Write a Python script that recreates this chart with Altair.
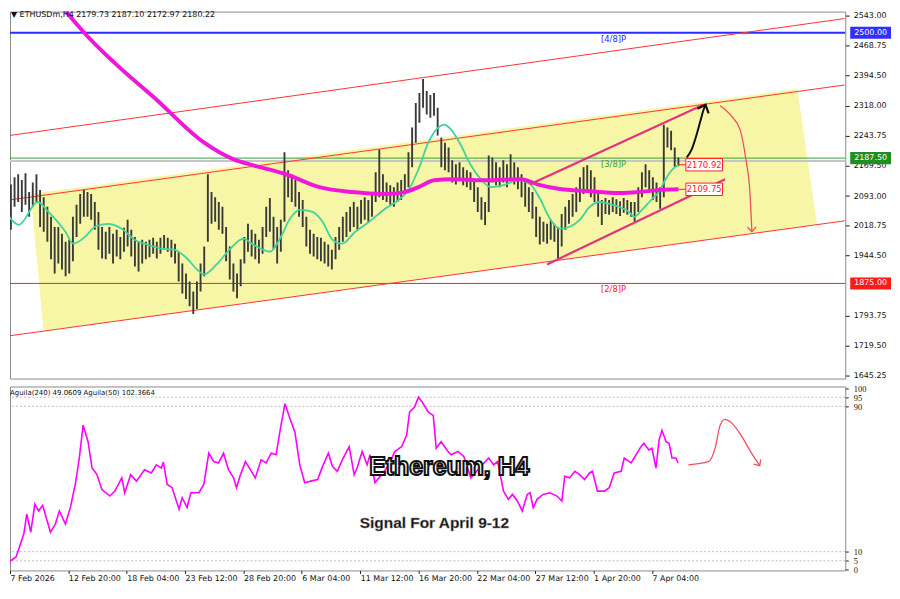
import altair as alt
import pandas as pd

FONT = "DejaVu Sans"

# ---------------- data ----------------
# x = H4 bar index counted from 7 Feb 2026 12:00 ; y = price
tick_bars = [0, 32, 64, 96, 128, 160, 192, 224, 256, 288, 320, 352]
tick_labels = ["7 Feb 2026", "12 Feb 20:00", "18 Feb 04:00", "23 Feb 12:00", "28 Feb 20:00",
               "6 Mar 04:00", "11 Mar 12:00", "16 Mar 20:00", "22 Mar 04:00", "27 Mar 12:00",
               "1 Apr 20:00", "7 Apr 04:00"]
price_ticks = [2543.0, 2468.75, 2394.5, 2318.0, 2243.75, 2169.5, 2093.0, 2018.75,
               1944.5, 1793.75, 1719.5, 1645.25]

# candle highs / lows, one entry per two H4 bars
slot_hi = [2122, 2140, 2147, 2133, 2150, 2103, 2127, 2147, 2108, 2090,
           2066, 2041, 2016, 2016, 1999, 1979, 1984, 2041, 2071, 2098,
           2108, 2103, 2098, 2078, 2053, 2016, 2004, 2016, 1999, 2009,
           1991, 2014, 2034, 2009, 1991, 1979, 1984, 1979, 1984, 1989,
           1979, 1989, 1996, 1989, 1984, 1974, 1954, 1925, 1900, 1880,
           1855, 1880, 1925, 1967, 2147, 2103, 2090, 2078, 2066, 2016,
           1967, 1925, 1900, 1935, 1991, 2024, 2009, 1999, 1984, 2016,
           2066, 2088, 2041, 2016, 2034, 2202, 2157, 2147, 2133, 2103,
           2083, 2041, 2009, 1999, 1991, 1989, 1979, 1972, 1959, 1991,
           2016, 2041, 2053, 2066, 2078, 2066, 2083, 2090, 2083, 2098,
           2152, 2209, 2147, 2127, 2120, 2115, 2127, 2133, 2147, 2202,
           2264, 2325, 2350, 2385, 2355, 2345, 2350, 2313, 2239, 2226,
           2214, 2182, 2172, 2177, 2165, 2157, 2152, 2132, 2115, 2090,
           2078, 2194, 2189, 2177, 2165, 2182, 2172, 2197, 2177, 2165,
           2147, 2133, 2115, 2103, 2066, 2041, 2029, 2024, 2034, 2024,
           2016, 2048, 2066, 2083, 2098, 2115, 2140, 2165, 2170, 2157,
           2140, 2103, 2083, 2088, 2083, 2090, 2085, 2080, 2088, 2083,
           2078, 2078, 2115, 2152, 2172, 2157, 2140, 2127, 2115, 2271,
           2264, 2256, 2214, 2189]
slot_lo = [2009, 2066, 2078, 2053, 2071, 2041, 2066, 2078, 2016, 2004,
           1979, 1935, 1900, 1925, 1910, 1893, 1900, 1930, 1991, 2024,
           2041, 2041, 2034, 2009, 1959, 1937, 1935, 1949, 1925, 1942,
           1935, 1954, 1967, 1942, 1917, 1905, 1925, 1935, 1940, 1949,
           1937, 1949, 1959, 1954, 1940, 1925, 1880, 1850, 1836, 1818,
           1799, 1811, 1855, 1893, 1979, 2024, 2029, 2009, 1999, 1930,
           1885, 1855, 1838, 1868, 1925, 1954, 1942, 1935, 1925, 1949,
           1991, 2004, 1959, 1925, 1954, 2029, 2090, 2078, 2066, 2041,
           2016, 1967, 1949, 1942, 1935, 1930, 1925, 1917, 1910, 1935,
           1959, 1979, 1991, 2004, 2016, 2009, 2024, 2034, 2029, 2041,
           2078, 2090, 2083, 2078, 2071, 2066, 2078, 2083, 2098, 2115,
           2165, 2226, 2276, 2313, 2296, 2288, 2293, 2244, 2165, 2157,
           2152, 2127, 2122, 2132, 2120, 2115, 2108, 2078, 2053, 2034,
           2021, 2053, 2127, 2120, 2115, 2127, 2115, 2132, 2122, 2110,
           2090, 2066, 2053, 2036, 1991, 1972, 1979, 1974, 1984, 1979,
           1937, 1967, 2009, 2024, 2041, 2053, 2078, 2098, 2108, 2090,
           2078, 2041, 2021, 2048, 2046, 2053, 2048, 2043, 2051, 2046,
           2041, 2029, 2053, 2090, 2115, 2103, 2083, 2078, 2061, 2090,
           2214, 2207, 2165, 2167]

# moving average (50) - teal
ma50_i = [-0.5, 4.9, 15.2, 21.1, 30.4, 34.7, 41.2, 46.6, 53.7, 61.3, 68.3, 75.4, 83.0, 90.0,
          97.1, 102.5, 106.3, 113.3, 120.9, 128.0, 133.4, 142.6, 148.0, 153.5, 158.9, 165.9,
          171.4, 176.8, 182.2, 189.3, 196.9, 205.5, 213.1, 218.5, 224.0, 229.4, 234.8, 238.1,
          241.9, 247.3, 252.7, 258.1, 263.6, 270.6, 278.2, 285.2, 290.7, 296.1, 301.5, 306.9,
          312.4, 317.8, 323.2, 328.6, 334.1, 339.5, 342.2, 346.5, 352.0, 355.7, 359.5, 362.8, 366.6]
ma50_p = [2041.0, 2021.2, 2078.1, 2053.4, 2003.9, 1974.3, 1991.6, 2016.3, 2023.7, 2011.3, 1984.1,
          1971.8, 1961.9, 1959.4, 1937.1, 1909.9, 1897.6, 1922.3, 1961.9, 1986.6, 1971.8, 1954.4,
          1986.6, 2036.1, 2058.3, 2053.4, 2028.6, 1984.1, 1974.2, 2003.9, 2028.6, 2060.8, 2083.0,
          2107.8, 2159.7, 2226.5, 2263.6, 2271.0, 2258.6, 2219.1, 2169.6, 2135.0, 2115.2, 2120.1,
          2132.5, 2122.6, 2085.5, 2036.1, 2011.3, 2016.3, 2033.6, 2065.6, 2078.1, 2073.2, 2065.6,
          2053.4, 2041.0, 2058.3, 2085.5, 2102.8, 2135.0, 2157.2, 2170.9]

# moving average (240) - magenta
ma240_i = [24.9, 27.7, 39.6, 57.5, 79.2, 106.3, 122.6, 133.4, 151.3, 169.7, 187.6, 205.5, 216.4,
           224.0, 232.6, 241.9, 259.8, 279.8, 290.7, 301.5, 316.2, 334.1, 344.9, 355.7, 366.6]
ma240_p = [2592.5, 2572.7, 2505.9, 2424.3, 2337.8, 2226.5, 2184.4, 2169.6, 2147.3, 2115.2, 2102.8,
           2097.9, 2102.8, 2115.2, 2132.5, 2135.0, 2132.5, 2135.0, 2120.1, 2110.3, 2105.3, 2100.4,
           2102.8, 2107.8, 2109.75]

# long-term regression channel (red lines)
chan_i = [-0.5, 457.7]
chan_upper = [2243.8, 2535.6]
chan_middle = [2083.1, 2369.9]
chan_lower = [1744.2, 2031.1]

# highlighted (yellow) channel polygon
yel_i = [11.4, 18.4, 431.7, 442.5]
yel_top = [2097.9, 2102.3, 2360.0, 2021.7]
yel_bot = [2097.9, 1756.1, 2014.8, 2021.7]

# short-term rising channel (pink)
pink_up_i = [285.2, 380.2]
pink_up_p = [2122.6, 2320.4]
pink_lo_i = [294.5, 392.1]
pink_lo_p = [1922.3, 2135.0]

# Murrey levels
levels = [2500.0, 2187.5, 1875.0]
level_names = ["[4/8]P", "[3/8]P", "[2/8]P"]
level_colors = ["#2b2bff", "#3c9d3c", "#ff2020"]
level_box_colors = ["#2f2fff", "#1f8f1f", "#ff1a1a"]
bid_price = 2180.22

# end-of-MA labels
ma_label_values = [2170.92, 2109.75]

# forecast arrows
black_arrow_i = [371.1, 373.8, 376.5, 378.6, 380.3, 381.4]
black_arrow_p = [2189.4, 2209.2, 2246.3, 2280.9, 2308.1, 2320.4]
red_arrow_i = [389.4, 395.4, 400.3, 403.5, 405.7, 406.8]
red_arrow_p = [2318.0, 2293.3, 2258.6, 2184.4, 2102.8, 2003.9]

# oscillator (Aguila)
osc_i = [-0.5, 3.3, 4.9, 7.6, 9.2, 11.4, 13.6, 15.7, 17.9, 22.2, 24.9, 27.1, 30.4, 33.1, 35.8,
         38.0, 40.1, 42.8, 45.0, 47.7, 50.4, 54.8, 57.5, 61.3, 62.9, 66.2, 69.4, 73.8, 77.5, 80.3,
         83.0, 84.1, 86.2, 88.9, 92.7, 94.4, 97.1, 99.2, 103.6, 106.3, 109.0, 111.7, 114.4, 117.1,
         119.8, 122.6, 124.2, 126.4, 129.1, 131.8, 134.5, 137.7, 140.5, 143.2, 145.9, 148.6, 150.8,
         153.5, 156.2, 158.9, 161.6, 164.9, 168.7, 171.4, 174.6, 176.8, 179.5, 182.2, 186.0, 188.7,
         190.3, 193.1, 195.8, 197.4, 200.1, 203.9, 207.7, 211.0, 214.8, 217.5, 219.1, 221.8, 224.0,
         226.1, 229.4, 232.1, 233.7, 236.4, 240.2, 241.9, 245.7, 248.9, 252.7, 258.1, 262.5, 265.2,
         267.4, 270.6, 273.3, 275.5, 278.2, 280.9, 283.6, 285.2, 286.9, 289.0, 292.3, 296.1, 299.9,
         302.6, 304.2, 306.9, 309.7, 312.4, 315.1, 317.8, 319.4, 322.1, 325.9, 328.6, 331.3, 335.1,
         336.8, 340.6, 343.3, 346.0, 347.6, 350.3, 352.0, 354.2, 355.9, 357.5, 359.7, 361.4, 363.0,
         365.2, 366.3]
osc_v = [4.4, 7.1, 11.6, 19.8, 30.7, 20.7, 36.1, 32.4, 35.5, 20.7, 25.2, 32.4, 25.2, 34.3, 47.0,
         61.5, 79.6, 70.5, 56.0, 52.4, 44.2, 40.6, 43.3, 50.6, 42.4, 52.4, 48.8, 55.1, 53.3, 57.8,
         56.0, 59.3, 47.0, 45.2, 33.4, 39.7, 34.3, 42.4, 42.4, 47.0, 64.2, 59.6, 58.8, 64.2, 55.1,
         50.6, 45.2, 52.4, 59.6, 55.1, 50.6, 60.5, 58.8, 64.2, 63.3, 79.6, 91.4, 83.2, 75.9, 57.8,
         47.9, 48.8, 49.7, 56.9, 64.2, 56.9, 54.2, 60.5, 67.8, 52.4, 56.0, 65.1, 57.8, 63.3, 48.0,
         52.4, 57.8, 65.1, 67.8, 74.1, 86.8, 89.5, 95.0, 92.2, 86.8, 85.0, 66.9, 70.5, 65.1, 63.3,
         65.1, 62.3, 50.6, 56.9, 61.5, 57.8, 59.6, 43.3, 38.8, 41.5, 37.9, 32.4, 41.5, 42.4, 34.3,
         38.8, 41.5, 42.4, 40.6, 37.9, 51.5, 50.6, 54.2, 52.4, 49.7, 53.3, 54.2, 43.3, 43.3, 45.2,
         53.3, 54.2, 61.5, 58.8, 63.3, 67.8, 69.6, 66.0, 66.9, 56.0, 71.4, 76.8, 70.5, 69.6, 61.5,
         61.5, 58.8]
osc_levels = [5, 10, 90, 95]
osc_ticks = [0, 5, 10, 90, 95, 100]
osc_arrow_i = [372.0, 382.9, 386.7, 389.4, 392.1, 395.3, 400.8, 406.2, 411.1]
osc_arrow_v = [57.8, 59.5, 67.1, 79.6, 82.8, 81.2, 74.1, 64.9, 57.3]

title_text = "\u25bc ETHUSDm,H4  2179.73 2187.10 2172.97 2180.22"
osc_text = "Aguila(240) 49.0609  Aguila(50) 102.3664"
big_text = "Ethereum, H4"
signal_text = "Signal For April 9-12"

# ---------------- chart ----------------
W, H_MAIN, H_OSC = 840, 369, 185
xscale = alt.Scale(domain=[0, 458], nice=False, zero=False)
yscale = alt.Scale(domain=[1637.8, 2552.9], nice=False, zero=False)
oscale = alt.Scale(domain=[-0.33, 100.87], nice=False, zero=False)

main_axis = alt.Axis(orient="right", values=price_ticks, format=".2f", grid=False, domain=False,
                     ticks=True, tickSize=4, tickColor="#222", labelPadding=4, labelFont=FONT,
                     labelFontSize=8, labelColor="#111", labelOverlap=False, title=None)
lbl_expr = "[" + ",".join(f"'{t}'" for t in tick_labels) + "][round(datum.value / 32)]"
x_axis = alt.Axis(values=tick_bars, labelExpr=lbl_expr, grid=False, domain=False, tickSize=3,
                  tickColor="#222", labelAlign="left", labelBaseline="top", labelPadding=1,
                  labelFont=FONT, labelFontSize=8, labelColor="#111", labelOverlap=False,
                  labelFlush=False, title=None)
osc_axis = alt.Axis(orient="right", values=osc_ticks, format="d", grid=False, domain=False,
                    tickSize=3, tickColor="#222", labelPadding=5, labelFont="Liberation Serif",
                    labelFontSize=8.5, labelColor="#111", labelOverlap=False, title=None)


def X(field="i"):
    return alt.X(f"{field}:Q", scale=xscale, axis=None)


def Y(field="p"):
    return alt.Y(f"{field}:Q", scale=yscale, axis=main_axis)


def XO(field="i"):
    return alt.X(f"{field}:Q", scale=xscale, axis=x_axis)


def YO(field="v"):
    return alt.Y(f"{field}:Q", scale=oscale, axis=osc_axis)


yellow = alt.Chart(pd.DataFrame({"i": yel_i, "p": yel_top, "p2": yel_bot})).mark_area(
    color="#f6f6a6", opacity=1).encode(x=X(), y=Y(), y2="p2:Q")

lvl_df = pd.DataFrame({"p": levels, "name": level_names, "c": level_colors,
                       "bc": level_box_colors, "i": [324, 324, 324],
                       "w": [2, 1, 1]})
bid = alt.Chart(pd.DataFrame({"p": [bid_price]})).mark_rule(color="#c6c6c6", strokeWidth=2).encode(y=Y())
lvl_lines = alt.Chart(lvl_df).mark_rule().encode(
    y=Y(), color=alt.Color("c:N", scale=None), strokeWidth=alt.StrokeWidth("w:Q", scale=None))
lvl_text = alt.Chart(lvl_df).mark_text(align="left", baseline="top", dy=2, font=FONT, fontSize=8.5).encode(
    x=X(), y=Y(), text="name:N", color=alt.Color("c:N", scale=None))

chan_rows = []
for name, vals in [("u", chan_upper), ("m", chan_middle), ("l", chan_lower)]:
    for ii, pp in zip(chan_i, vals):
        chan_rows.append({"i": ii, "p": pp, "g": name})
channels = alt.Chart(pd.DataFrame(chan_rows)).mark_line(color="#ff3333", strokeWidth=1, clip=True).encode(
    x=X(), y=Y(), detail="g:N")

cdf = pd.DataFrame({"i": [2 * k + 0.5 for k in range(len(slot_hi))], "hi": slot_hi, "lo": slot_lo})
candles = alt.Chart(cdf).mark_rule(color="#3a3a3a", strokeWidth=1.9, clip=True).encode(
    x=X(), y=Y("hi"), y2="lo:Q")

ma50 = alt.Chart(pd.DataFrame({"i": ma50_i, "p": ma50_p})).mark_line(
    color="#3fd3a0", strokeWidth=1.8, interpolate="monotone", clip=True).encode(x=X(), y=Y())
ma240 = alt.Chart(pd.DataFrame({"i": ma240_i, "p": ma240_p})).mark_line(
    color="#f018d8", strokeWidth=4, interpolate="monotone", clip=True).encode(x=X(), y=Y())

pink_rows = [{"i": a, "p": b, "g": "u"} for a, b in zip(pink_up_i, pink_up_p)] + \
            [{"i": a, "p": b, "g": "l"} for a, b in zip(pink_lo_i, pink_lo_p)]
pink = alt.Chart(pd.DataFrame(pink_rows)).mark_line(color="#e3337e", strokeWidth=2.2).encode(
    x=X(), y=Y(), detail="g:N")

blk = pd.DataFrame({"i": black_arrow_i, "p": black_arrow_p})
black_arrow = alt.Chart(blk).mark_line(color="#111", strokeWidth=2, interpolate="monotone").encode(x=X(), y=Y())
black_head = alt.Chart(blk.tail(1)).mark_point(
    shape="M-1,-0.9L0,0L-1,0.9", filled=False, color="#111", strokeWidth=2.2, size=180,
    angle=292, opacity=1).encode(x=X(), y=Y())
rdf = pd.DataFrame({"i": red_arrow_i, "p": red_arrow_p})
red_arrow = alt.Chart(rdf).mark_line(color="#f05060", strokeWidth=1.3, interpolate="monotone").encode(x=X(), y=Y())
red_head = alt.Chart(rdf.tail(1)).mark_point(
    shape="M-1,-0.9L0,0L-1,0.9", filled=False, color="#f05060", strokeWidth=1.3, size=90,
    angle=88, opacity=1).encode(x=X(), y=Y())

ma_end = pd.DataFrame({"p": ma_label_values, "t": [f"{v:.2f}" for v in ma_label_values],
                       "i0": [ma50_i[-1], ma240_i[-1]]}).assign(i1=370.6, i2=390.7)
ma_conn = alt.Chart(ma_end).mark_rule(color="#ff2020", strokeWidth=1).encode(
    x=X("i0"), x2="i1:Q", y=Y())
ma_box = alt.Chart(ma_end).transform_calculate(top="datum.p + 15.5", bot="datum.p - 15.5").mark_rect(
    fill="white", stroke="#ff2020", strokeWidth=1).encode(
    x=X("i1"), x2="i2:Q", y=Y("top"), y2="bot:Q")
ma_txt = alt.Chart(ma_end).transform_calculate(ic="(datum.i1 + datum.i2) / 2").mark_text(
    color="#ff2020", font=FONT, fontSize=8.5).encode(
    x=X("ic"), y=Y(), text="t:N")

box_df = lvl_df.assign(t=[f"{v:.2f}" for v in levels])
axis_box = alt.Chart(box_df).transform_calculate(top="datum.p + 15", bot="datum.p - 15").mark_rect(
    clip=False).encode(
    x=alt.value(845), x2=alt.value(886), y=Y("top"), y2="bot:Q", color=alt.Color("bc:N", scale=None))
axis_box_txt = alt.Chart(box_df).mark_text(color="white", font=FONT, fontSize=8, clip=False).encode(
    x=alt.value(865.5), y=Y(), text="t:N")

title_mark = alt.Chart(pd.DataFrame({"t": [title_text]})).mark_text(
    align="left", baseline="middle", font=FONT, fontSize=8, color="#111").encode(
    x=alt.value(1), y=alt.value(3), text="t:N")

main = alt.layer(yellow, bid, lvl_lines, channels, candles, ma50, ma240, pink, lvl_text,
                 black_arrow, black_head, red_arrow, red_head, ma_conn, ma_box, ma_txt,
                 axis_box, axis_box_txt, title_mark).properties(width=W, height=H_MAIN)

# ---- oscillator panel ----
grid = alt.Chart(pd.DataFrame({"v": osc_levels})).mark_rule(
    color="#bdbdbd", strokeDash=[2, 2], strokeWidth=1).encode(y=YO())
osc = alt.Chart(pd.DataFrame({"i": osc_i, "v": osc_v})).mark_line(
    color="#ff00ff", strokeWidth=1.6, clip=True).encode(x=XO(), y=YO())
oadf = pd.DataFrame({"i": osc_arrow_i, "v": osc_arrow_v})
osc_arrow = alt.Chart(oadf).mark_line(color="#f05060", strokeWidth=1.3, interpolate="monotone").encode(
    x=XO(), y=YO())
osc_head = alt.Chart(oadf.tail(1)).mark_point(
    shape="M-1,-0.9L0,0L-1,0.9", filled=False, color="#f05060", strokeWidth=1.3, size=90,
    angle=57, opacity=1).encode(x=XO(), y=YO())

ann = pd.DataFrame({"t": [big_text, signal_text], "i": [240.9, 232.7], "v": [56.8, 25.8]})
big = alt.Chart(ann.head(1)).mark_text(
    font="Liberation Sans", fontWeight="bold", fontSize=25, fill="white", stroke="#111",
    strokeWidth=2).encode(x=XO(), y=YO(), text="t:N")
sig = alt.Chart(ann.tail(1)).mark_text(
    font="Liberation Sans", fontWeight="bold", fontSize=15.5, color="#111", stroke="#8a8a8a",
    strokeWidth=0.4).encode(x=XO(), y=YO(), text="t:N")
osc_title = alt.Chart(pd.DataFrame({"t": [osc_text]})).mark_text(
    align="left", baseline="middle", font=FONT, fontSize=7, color="#111").encode(
    x=alt.value(0), y=alt.value(7), text="t:N")

bottom = alt.layer(grid, osc, osc_arrow, osc_head, big, sig, osc_title).properties(
    width=W, height=H_OSC)

chart = alt.vconcat(main, bottom, spacing=3).properties(padding=0, background="white").configure_view(
    stroke="#8a8a8a", strokeWidth=1).resolve_scale(x="independent", y="independent")

chart.save("out.html", embed_options={"renderer": "svg", "actions": False})
